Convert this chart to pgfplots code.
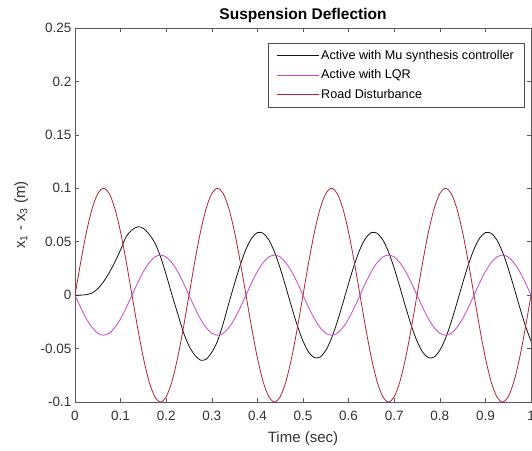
\documentclass[border=0pt]{standalone}
\usepackage{pgfplots}
\pgfplotsset{compat=1.18}
\usepackage{pgfplotstable}
\usepackage{fontspec}
\setmainfont{Liberation Sans}

\definecolor{mucol}{RGB}{20,20,20}
\definecolor{lqrcol}{RGB}{204,70,204}
\definecolor{roadcol}{RGB}{178,36,54}

% t, Mu-synthesis, LQR, road disturbance
\pgfplotstableread{
t      mu      lqr     road
0.0000  0.0000  0.0000  0.0000
0.0125  0.0000 -0.0116  0.0309
0.0250  0.0005 -0.0221  0.0588
0.0375  0.0020 -0.0303  0.0809
0.0500  0.0060 -0.0357  0.0951
0.0625  0.0125 -0.0375  0.1000
0.0750  0.0210 -0.0357  0.0951
0.0875  0.0310 -0.0303  0.0809
0.1000  0.0425 -0.0221  0.0588
0.1125  0.0550 -0.0116  0.0309
0.1250  0.0610  0.0000  0.0000
0.1375  0.0640  0.0116 -0.0309
0.1500  0.0625  0.0221 -0.0588
0.1625  0.0570  0.0303 -0.0809
0.1750  0.0490  0.0357 -0.0951
0.1875  0.0360  0.0375 -0.1000
0.2000  0.0190  0.0357 -0.0951
0.2125  0.0005  0.0303 -0.0809
0.2250 -0.0170  0.0221 -0.0588
0.2375 -0.0345  0.0116 -0.0309
0.2500 -0.0475  0.0000  0.0000
0.2625 -0.0560 -0.0116  0.0309
0.2750 -0.0608 -0.0221  0.0588
0.2875 -0.0600 -0.0303  0.0809
0.3000 -0.0535 -0.0357  0.0951
0.3125 -0.0430 -0.0375  0.1000
0.3250 -0.0265 -0.0357  0.0951
0.3375 -0.0074 -0.0303  0.0809
0.3500  0.0110 -0.0221  0.0588
0.3625  0.0284 -0.0116  0.0309
0.3750  0.0430  0.0000  0.0000
0.3875  0.0534  0.0116 -0.0309
0.4000  0.0585  0.0221 -0.0588
0.4125  0.0579  0.0303 -0.0809
0.4250  0.0517  0.0357 -0.0951
0.4375  0.0404  0.0375 -0.1000
0.4500  0.0251  0.0357 -0.0951
0.4625  0.0074  0.0303 -0.0809
0.4750 -0.0110  0.0221 -0.0588
0.4875 -0.0284  0.0116 -0.0309
0.5000 -0.0430  0.0000  0.0000
0.5125 -0.0534 -0.0116  0.0309
0.5250 -0.0585 -0.0221  0.0588
0.5375 -0.0579 -0.0303  0.0809
0.5500 -0.0517 -0.0357  0.0951
0.5625 -0.0404 -0.0375  0.1000
0.5750 -0.0251 -0.0357  0.0951
0.5875 -0.0074 -0.0303  0.0809
0.6000  0.0110 -0.0221  0.0588
0.6125  0.0284 -0.0116  0.0309
0.6250  0.0430  0.0000  0.0000
0.6375  0.0534  0.0116 -0.0309
0.6500  0.0585  0.0221 -0.0588
0.6625  0.0579  0.0303 -0.0809
0.6750  0.0517  0.0357 -0.0951
0.6875  0.0404  0.0375 -0.1000
0.7000  0.0251  0.0357 -0.0951
0.7125  0.0074  0.0303 -0.0809
0.7250 -0.0110  0.0221 -0.0588
0.7375 -0.0284  0.0116 -0.0309
0.7500 -0.0430  0.0000  0.0000
0.7625 -0.0534 -0.0116  0.0309
0.7750 -0.0585 -0.0221  0.0588
0.7875 -0.0579 -0.0303  0.0809
0.8000 -0.0517 -0.0357  0.0951
0.8125 -0.0404 -0.0375  0.1000
0.8250 -0.0251 -0.0357  0.0951
0.8375 -0.0074 -0.0303  0.0809
0.8500  0.0110 -0.0221  0.0588
0.8625  0.0284 -0.0116  0.0309
0.8750  0.0430  0.0000  0.0000
0.8875  0.0534  0.0116 -0.0309
0.9000  0.0585  0.0221 -0.0588
0.9125  0.0579  0.0303 -0.0809
0.9250  0.0517  0.0357 -0.0951
0.9375  0.0404  0.0375 -0.1000
0.9500  0.0251  0.0357 -0.0951
0.9625  0.0074  0.0303 -0.0809
0.9750 -0.0110  0.0221 -0.0588
0.9875 -0.0284  0.0116 -0.0309
1.0000 -0.0430  0.0000  0.0000
}\susp

\begin{document}
\begin{tikzpicture}
\begin{axis}[
    scale only axis,
    width=456pt, height=374pt,
    xmin=0, xmax=1, ymin=-0.1, ymax=0.25,
    xtick={0,0.1,0.2,0.3,0.4,0.5,0.6,0.7,0.8,0.9,1},
    xticklabels={0,0.1,0.2,0.3,0.4,0.5,0.6,0.7,0.8,0.9,1},
    ytick={-0.1,-0.05,0,0.05,0.1,0.15,0.2,0.25},
    yticklabels={-0.1,-0.05,0,0.05,0.1,0.15,0.2,0.25},
    tick align=inside,
    major tick length=4pt,
    axis line style={black!65},
    tick style={black!65, line width=0.6pt},
    tick label style={font=\fontsize{13.5}{16}\selectfont, text=black!80},
    xticklabel style={yshift=-6pt},
    title={Suspension Deflection},
    title style={font=\fontsize{15.5}{18}\selectfont\bfseries,
        at={(axis description cs:0.5,1.0214)}, anchor=base, yshift=-6pt},
    xlabel={Time (sec)},
    xlabel style={font=\fontsize{15}{18}\selectfont, text=black!80,
        at={(axis description cs:0.5,-0.1096)}, anchor=base},
    ylabel={x\textsubscript{1} - x\textsubscript{3} (m)},
    ylabel style={font=\fontsize{15}{18}\selectfont, text=black!80,
        at={(axis description cs:-0.1096,0.5)}, anchor=base},
    legend style={at={(axis description cs:1,1)}, anchor=north east,
        xshift=-7pt, yshift=-15pt,
        font=\fontsize{12.6}{15}\selectfont,
        draw=black!70, inner xsep=8pt, inner ysep=5pt,
        row sep=5pt},
    legend cell align=left,
    legend image code/.code={\draw[#1] (0pt,0pt) -- (42pt,0pt);},
    every axis plot/.append style={line width=0.8pt},
]
\coordinate (bl) at (rel axis cs:0,0);
\coordinate (tr) at (rel axis cs:1,1);
\addplot[mucol, smooth] table[x=t, y=mu] {\susp};
\addlegendentry{Active with Mu synthesis controller}
\addplot[lqrcol, smooth] table[x=t, y=lqr] {\susp};
\addlegendentry{Active with LQR}
\addplot[roadcol, smooth] table[x=t, y=road] {\susp};
\addlegendentry{Road Disturbance}
\end{axis}
\pgfresetboundingbox
\path ([shift={(-75pt,-49pt)}]bl) rectangle ([shift={(1pt,28pt)}]tr);
\end{tikzpicture}
\end{document}
